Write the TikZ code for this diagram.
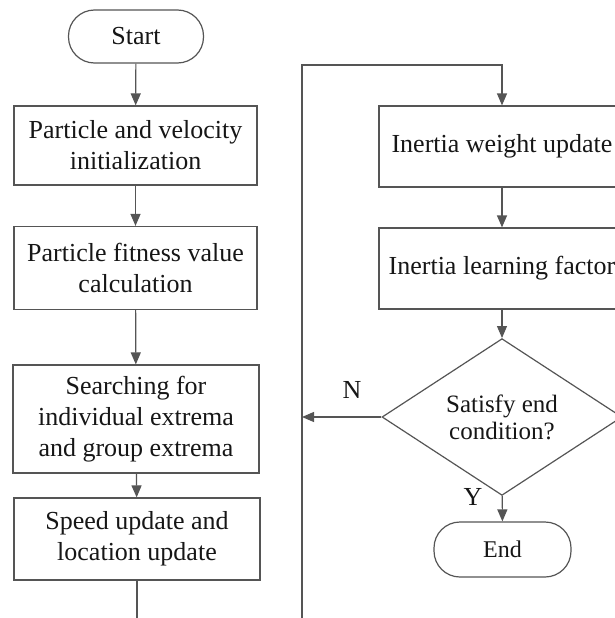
\documentclass[tikz,border=0pt]{standalone}
\usepackage{fontspec}
\setmainfont{Liberation Serif}
\usetikzlibrary{shapes.geometric,arrows.meta}
\definecolor{linegray}{HTML}{555555}
\definecolor{textgray}{HTML}{161616}

\begin{document}
\begin{tikzpicture}[x=1pt,y=-1pt,
  every node/.style={text=textgray,font=\fontsize{26}{31}\selectfont},
  box/.style={draw=linegray,line width=1.2pt,align=center,inner sep=0pt},
  term/.style={box,rounded corners=26pt},
  line/.style={draw=linegray,line width=1.2pt},
  arr/.style={line,-{Triangle[length=12pt,width=10pt]}}]

\useasboundingbox (0,0) rectangle (615,618);
\clip (0,0) rectangle (615,618);

% left column
\node[term,minimum width=135pt,minimum height=53pt] (start) at (136,36.5) {Start};
\node[box,minimum width=243pt,minimum height=79pt] (init) at (135.5,145.5) {Particle and velocity\\initialization};
\node[box,minimum width=243pt,minimum height=83pt] (fit) at (135.5,268) {Particle fitness value\\calculation};
\node[box,minimum width=246pt,minimum height=108pt] (search) at (136,419) {Searching for\\individual extrema\\and group extrema};
\node[box,minimum width=246pt,minimum height=82pt] (speed) at (137,539) {Speed update and\\location update};

% right column
\node[box,minimum width=246pt,minimum height=81pt] (weight) at (502,146.5) {Inertia weight update};
\node[box,minimum width=246pt,minimum height=81pt] (factor) at (502,268.5) {Inertia learning factor};
\node[box,diamond,minimum width=240pt,minimum height=108pt,font=\fontsize{25}{27}\selectfont] (cond) at (502,417) {Satisfy end\\condition?};
\node[term,minimum width=137pt,minimum height=55pt,font=\fontsize{24}{28}\selectfont] (end) at (502.5,549.5) {End};

\node (nlab) at (352,390) {N};
\node (ylab) at (473,497) {Y};

\coordinate (lb) at (137,660);
\coordinate (rt) at (302,65);

\draw[arr] (start) -- (init);
\draw[arr] (init) -- (fit);
\draw[arr] (fit) -- (search);
\draw[arr] (search) -- (speed);
\draw[arr] (speed) -- (lb) -| (rt) -| (weight);
\draw[arr] (weight) -- (factor);
\draw[arr] (factor) -- (cond);
\draw[arr] (cond.west) -- (cond.west -| rt);
\draw[arr] (cond) -- (end);
\end{tikzpicture}
\end{document}
